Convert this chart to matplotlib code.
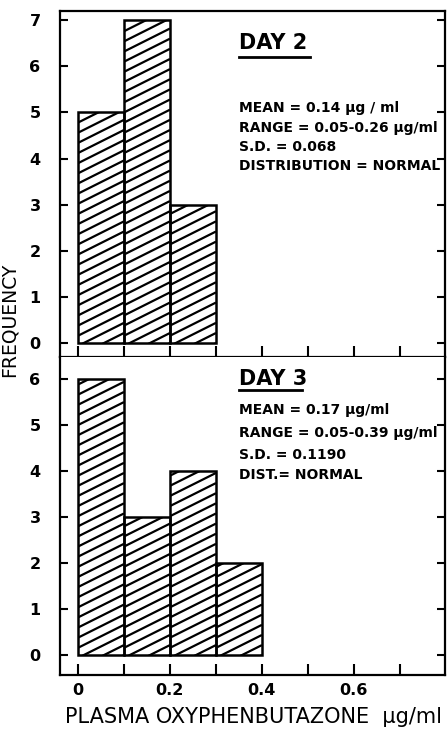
import numpy as np
import matplotlib
matplotlib.use("Agg")
import matplotlib.pyplot as plt
from matplotlib.collections import LineCollection

# histogram data (bin left edges, frequencies)
bin_edges = [0.0, 0.1, 0.2, 0.3]
bin_width = 0.1
day2_freq = [5, 7, 3]
day3_freq = [6, 3, 4, 2]

day2_text = ["MEAN = 0.14 \u03bcg / ml",
             "RANGE = 0.05-0.26 \u03bcg/ml",
             "S.D. = 0.068",
             "DISTRIBUTION = NORMAL"]
day3_text = ["MEAN = 0.17 \u03bcg/ml",
             "RANGE = 0.05-0.39 \u03bcg/ml",
             "S.D. = 0.1190",
             "DIST.= NORMAL"]

x_ticks = [0.0, 0.1, 0.2, 0.3, 0.4, 0.5, 0.6, 0.7]
x_labels = ["0", "", "0.2", "", "0.4", "", "0.6", ""]

plt.rcParams['font.family'] = ['DejaVu Sans']
W, H = 447, 734
fig = plt.figure(figsize=(W / 100, H / 100), dpi=100)

ax_top = fig.add_axes([60 / W, 1 - 357 / H, 385 / W, 346 / H])
ax_bot = fig.add_axes([60 / W, 1 - 675 / H, 385 / W, 318 / H])


def hatch_bars(ax, bars, slope=5.0, step=0.22):
    # slanted hatch lines clipped to each bar
    for b in bars:
        x0, y0 = b.get_x(), b.get_y()
        w, h = b.get_width(), b.get_height()
        segs = []
        c = -slope * w
        while c < h + step:
            segs.append([(x0, y0 + c), (x0 + w, y0 + c + slope * w)])
            c += step
        lc = LineCollection(segs, colors="black", linewidths=1.6, zorder=2)
        ax.add_collection(lc)
        lc.set_clip_path(b.get_path(), b.get_transform())


def style(ax, ylim, yticks):
    ax.set_xlim(-0.039, 0.798)
    ax.set_ylim(*ylim)
    ax.set_yticks(yticks)
    ax.set_yticklabels([str(t) for t in yticks], fontsize=11.5, fontweight="bold")
    ax.set_xticks(x_ticks)
    ax.tick_params(axis="y", direction="in", length=6, width=1.5, pad=14,
                   left=True, right=True)
    ax.tick_params(axis="x", direction="in", length=8, width=1.5, top=False)
    for s in ax.spines.values():
        s.set_linewidth(1.6)


for ax, freq, ylim, yt in [(ax_top, day2_freq, (-0.30, 7.2), range(8)),
                           (ax_bot, day3_freq, (-0.43, 6.48), range(7))]:
    bg = ax.bar(bin_edges[:len(freq)], freq, width=bin_width, align="edge",
                facecolor="white", edgecolor="none", zorder=1)
    hatch_bars(ax, bg)
    ax.bar(bin_edges[:len(freq)], freq, width=bin_width, align="edge",
           facecolor="none", edgecolor="black", linewidth=1.8, zorder=3)
    style(ax, ylim, list(yt))

ax_top.set_xticklabels([])
ax_bot.set_xticklabels(x_labels, fontsize=11.5, fontweight="bold")
ax_bot.tick_params(axis="x", pad=6)
ax_bot.spines["top"].set_visible(False)

# panel annotations
for ax, title, lines, y_title, y_lines, y_ul, ul_end in [
        (ax_top, "DAY 2", day2_text, 43, [108, 128, 147, 166], 57, 310),
        (ax_bot, "DAY 3", day3_text, 379, [410, 433, 455, 475], 390, 302)]:
    fig.text(239 / W, 1 - y_title / H, title, fontsize=15, fontweight="bold",
             va="center", ha="left")
    fig.add_artist(plt.Line2D([239 / W, ul_end / W], [1 - y_ul / H, 1 - y_ul / H],
                              color="black", linewidth=2.0))
    for yy, t in zip(y_lines, lines):
        fig.text(239 / W, 1 - yy / H, t, fontsize=10, fontweight="bold",
                 va="center", ha="left")

fig.text(9 / W, 1 - 320 / H, "FREQUENCY", rotation=90, fontsize=13.5,
         va="center", ha="center")
fig.text(65 / W, 1 - 717 / H, "PLASMA OXYPHENBUTAZONE  \u03bcg/ml", fontsize=15,
         va="center", ha="left")

fig.savefig("out.png", dpi=100)
